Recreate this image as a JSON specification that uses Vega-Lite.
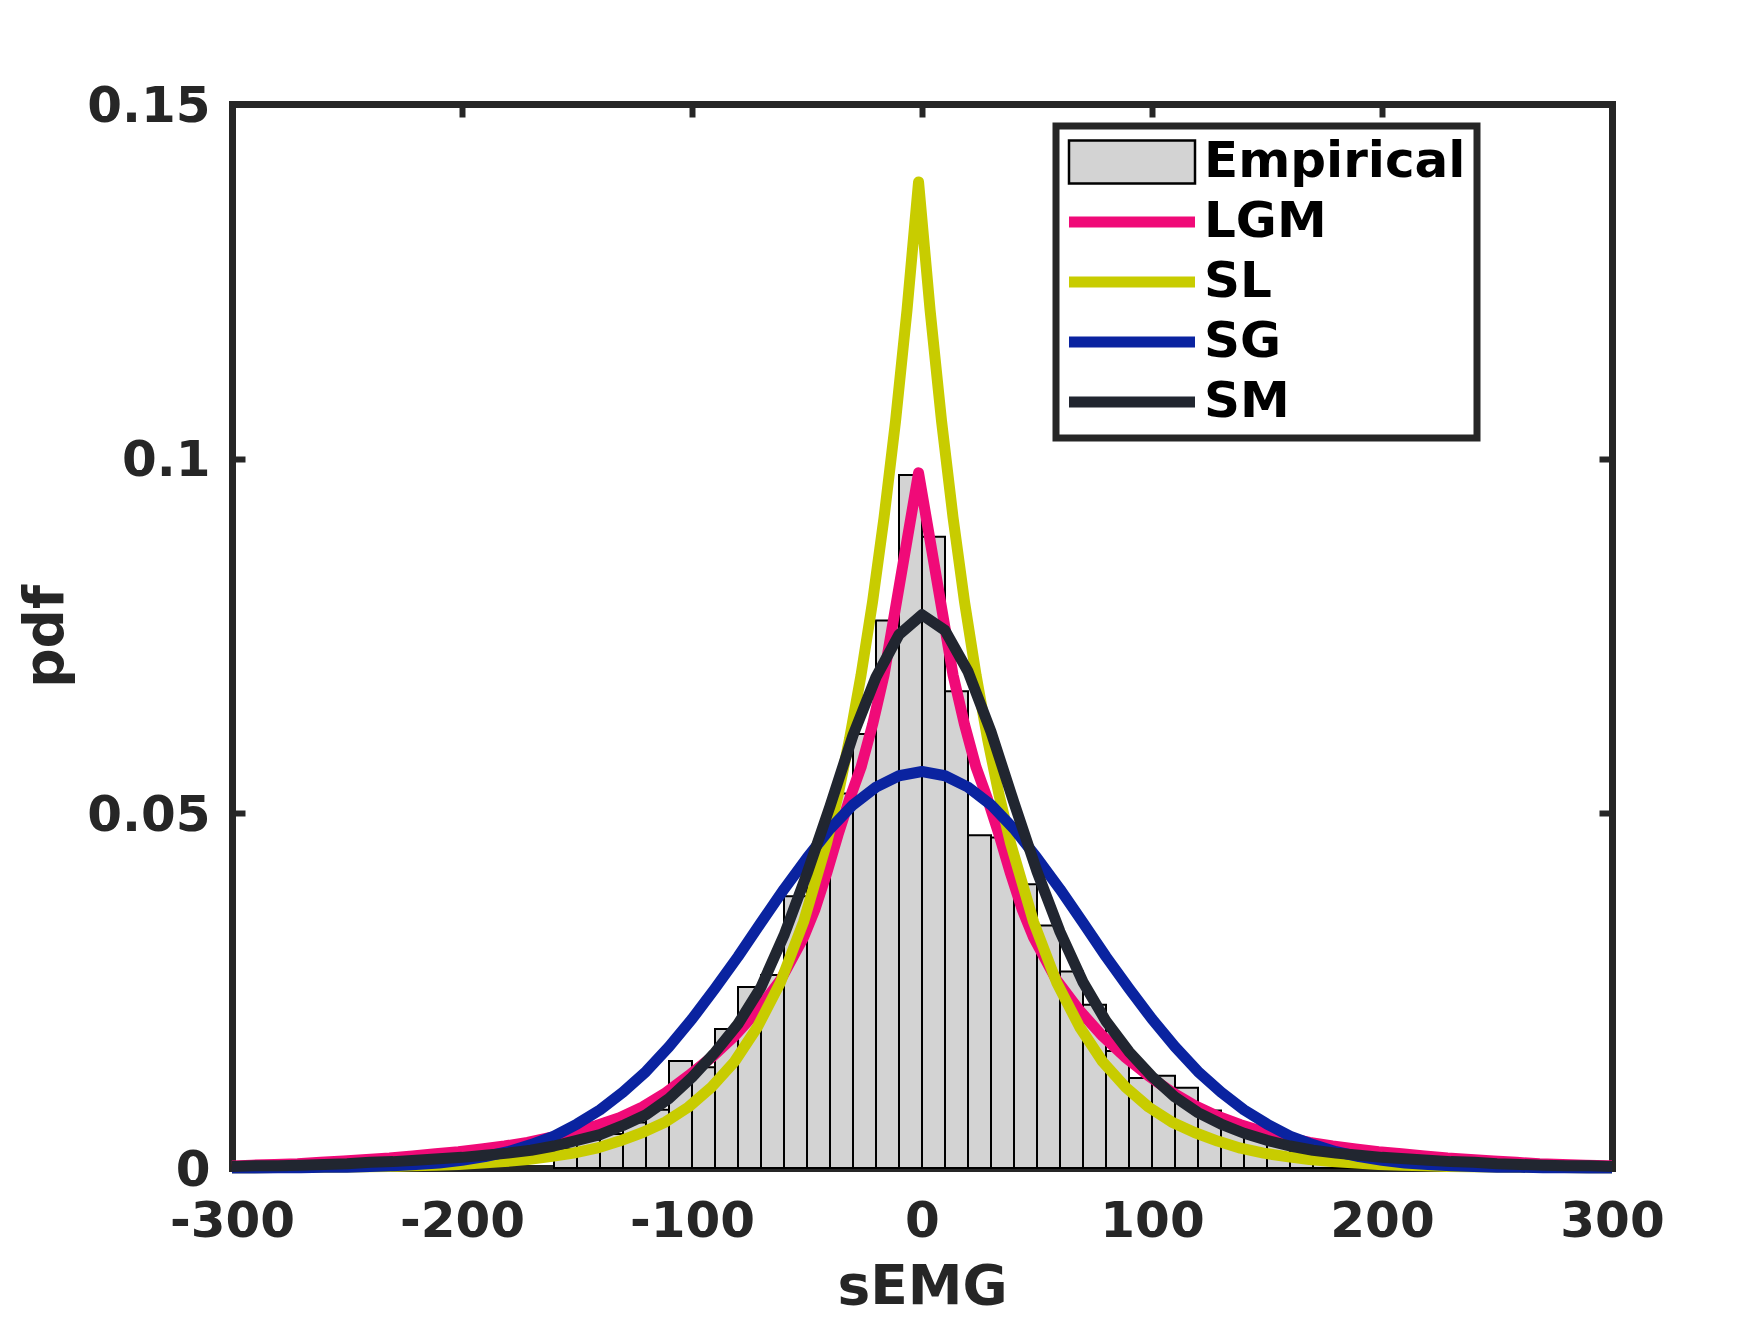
{
  "$schema": "https://vega.github.io/schema/vega-lite/v6.json",
  "width": 1380,
  "height": 1064,
  "autosize": {"type": "none"},
  "padding": {"left": 232, "top": 104, "right": 142, "bottom": 149},
  "background": "white",
  "config": {
    "view": {"stroke": null},
    "font": "DejaVu Sans",
    "axis": {
      "grid": false,
      "domainColor": "#262626",
      "domainWidth": 7,
      "domainCap": "square",
      "tickColor": "#262626",
      "tickWidth": 6,
      "tickSize": -13,
      "labelFont": "DejaVu Sans",
      "labelFontWeight": "bold",
      "labelFontSize": 50,
      "labelColor": "#262626",
      "labelFlush": false,
      "labelOverlap": false,
      "titleFont": "DejaVu Sans",
      "titleFontWeight": "bold",
      "titleFontSize": 55,
      "titleColor": "#262626",
      "zindex": 1
    },
    "legend": {
      "orient": "none",
      "legendX": 824,
      "legendY": 22,
      "title": null,
      "padding": 11,
      "rowPadding": 10,
      "clipHeight": 50,
      "labelFont": "DejaVu Sans",
      "labelFontWeight": "bold",
      "labelFontSize": 50,
      "labelColor": "#000000",
      "labelLimit": 600,
      "strokeColor": "#262626",
      "fillColor": "#ffffff"
    }
  },
  "datasets": {
    "hist": [
      {"bin_start": -160, "bin_end": -150, "pdf": 0.0027},
      {"bin_start": -150, "bin_end": -140, "pdf": 0.0040},
      {"bin_start": -140, "bin_end": -130, "pdf": 0.0048},
      {"bin_start": -130, "bin_end": -120, "pdf": 0.0064},
      {"bin_start": -120, "bin_end": -110, "pdf": 0.0082},
      {"bin_start": -110, "bin_end": -100, "pdf": 0.0151},
      {"bin_start": -100, "bin_end": -90, "pdf": 0.0142},
      {"bin_start": -90, "bin_end": -80, "pdf": 0.0196},
      {"bin_start": -80, "bin_end": -70, "pdf": 0.0255},
      {"bin_start": -70, "bin_end": -60, "pdf": 0.0272},
      {"bin_start": -60, "bin_end": -50, "pdf": 0.0383},
      {"bin_start": -50, "bin_end": -40, "pdf": 0.0432},
      {"bin_start": -40, "bin_end": -30, "pdf": 0.0528},
      {"bin_start": -30, "bin_end": -20, "pdf": 0.0612},
      {"bin_start": -20, "bin_end": -10, "pdf": 0.0772},
      {"bin_start": -10, "bin_end": 0, "pdf": 0.0977},
      {"bin_start": 0, "bin_end": 10, "pdf": 0.0890},
      {"bin_start": 10, "bin_end": 20, "pdf": 0.0672},
      {"bin_start": 20, "bin_end": 30, "pdf": 0.0469},
      {"bin_start": 30, "bin_end": 40, "pdf": 0.0466},
      {"bin_start": 40, "bin_end": 50, "pdf": 0.0400},
      {"bin_start": 50, "bin_end": 60, "pdf": 0.0342},
      {"bin_start": 60, "bin_end": 70, "pdf": 0.0277},
      {"bin_start": 70, "bin_end": 80, "pdf": 0.0230},
      {"bin_start": 80, "bin_end": 90, "pdf": 0.0165},
      {"bin_start": 90, "bin_end": 100, "pdf": 0.0127},
      {"bin_start": 100, "bin_end": 110, "pdf": 0.0130},
      {"bin_start": 110, "bin_end": 120, "pdf": 0.0113},
      {"bin_start": 120, "bin_end": 130, "pdf": 0.0081},
      {"bin_start": 130, "bin_end": 140, "pdf": 0.0060},
      {"bin_start": 140, "bin_end": 150, "pdf": 0.0047},
      {"bin_start": 150, "bin_end": 160, "pdf": 0.0035},
      {"bin_start": 160, "bin_end": 170, "pdf": 0.0038},
      {"bin_start": 170, "bin_end": 180, "pdf": 0.0030},
      {"bin_start": 180, "bin_end": 190, "pdf": 0.0023},
      {"bin_start": 190, "bin_end": 200, "pdf": 0.0021}
    ],
    "curves": [
      {"model": "LGM", "x": -300, "pdf": 0.0003},
      {"model": "LGM", "x": -291.5, "pdf": 0.0004},
      {"model": "LGM", "x": -281.5, "pdf": 0.0005},
      {"model": "LGM", "x": -271.5, "pdf": 0.0006},
      {"model": "LGM", "x": -261.5, "pdf": 0.0008},
      {"model": "LGM", "x": -251.5, "pdf": 0.0010},
      {"model": "LGM", "x": -241.5, "pdf": 0.0012},
      {"model": "LGM", "x": -231.5, "pdf": 0.0014},
      {"model": "LGM", "x": -221.5, "pdf": 0.0017},
      {"model": "LGM", "x": -211.5, "pdf": 0.0020},
      {"model": "LGM", "x": -201.5, "pdf": 0.0023},
      {"model": "LGM", "x": -191.5, "pdf": 0.0027},
      {"model": "LGM", "x": -181.5, "pdf": 0.0031},
      {"model": "LGM", "x": -171.5, "pdf": 0.0036},
      {"model": "LGM", "x": -161.5, "pdf": 0.0043},
      {"model": "LGM", "x": -151.5, "pdf": 0.0051},
      {"model": "LGM", "x": -141.5, "pdf": 0.0060},
      {"model": "LGM", "x": -131.5, "pdf": 0.0071},
      {"model": "LGM", "x": -121.5, "pdf": 0.0086},
      {"model": "LGM", "x": -111.5, "pdf": 0.0106},
      {"model": "LGM", "x": -101.5, "pdf": 0.0130},
      {"model": "LGM", "x": -91.5, "pdf": 0.0156},
      {"model": "LGM", "x": -81.5, "pdf": 0.0186},
      {"model": "LGM", "x": -71.5, "pdf": 0.0222},
      {"model": "LGM", "x": -61.5, "pdf": 0.0265},
      {"model": "LGM", "x": -51.5, "pdf": 0.0325},
      {"model": "LGM", "x": -46.5, "pdf": 0.0365},
      {"model": "LGM", "x": -41.5, "pdf": 0.0415},
      {"model": "LGM", "x": -36.5, "pdf": 0.0470},
      {"model": "LGM", "x": -31.5, "pdf": 0.0520},
      {"model": "LGM", "x": -26.5, "pdf": 0.0565},
      {"model": "LGM", "x": -21.5, "pdf": 0.0625},
      {"model": "LGM", "x": -16.5, "pdf": 0.0695},
      {"model": "LGM", "x": -11.5, "pdf": 0.0790},
      {"model": "LGM", "x": -6.5, "pdf": 0.0885},
      {"model": "LGM", "x": -1.5, "pdf": 0.0980},
      {"model": "LGM", "x": 3.5, "pdf": 0.0885},
      {"model": "LGM", "x": 8.5, "pdf": 0.0790},
      {"model": "LGM", "x": 13.5, "pdf": 0.0695},
      {"model": "LGM", "x": 18.5, "pdf": 0.0625},
      {"model": "LGM", "x": 23.5, "pdf": 0.0565},
      {"model": "LGM", "x": 28.5, "pdf": 0.0520},
      {"model": "LGM", "x": 33.5, "pdf": 0.0470},
      {"model": "LGM", "x": 38.5, "pdf": 0.0415},
      {"model": "LGM", "x": 43.5, "pdf": 0.0365},
      {"model": "LGM", "x": 48.5, "pdf": 0.0325},
      {"model": "LGM", "x": 58.5, "pdf": 0.0265},
      {"model": "LGM", "x": 68.5, "pdf": 0.0222},
      {"model": "LGM", "x": 78.5, "pdf": 0.0186},
      {"model": "LGM", "x": 88.5, "pdf": 0.0156},
      {"model": "LGM", "x": 98.5, "pdf": 0.0130},
      {"model": "LGM", "x": 108.5, "pdf": 0.0107},
      {"model": "LGM", "x": 118.5, "pdf": 0.0088},
      {"model": "LGM", "x": 128.5, "pdf": 0.0073},
      {"model": "LGM", "x": 138.5, "pdf": 0.0061},
      {"model": "LGM", "x": 148.5, "pdf": 0.0051},
      {"model": "LGM", "x": 158.5, "pdf": 0.0043},
      {"model": "LGM", "x": 168.5, "pdf": 0.0036},
      {"model": "LGM", "x": 178.5, "pdf": 0.0031},
      {"model": "LGM", "x": 188.5, "pdf": 0.0027},
      {"model": "LGM", "x": 198.5, "pdf": 0.0023},
      {"model": "LGM", "x": 208.5, "pdf": 0.0020},
      {"model": "LGM", "x": 218.5, "pdf": 0.0017},
      {"model": "LGM", "x": 228.5, "pdf": 0.0014},
      {"model": "LGM", "x": 238.5, "pdf": 0.0012},
      {"model": "LGM", "x": 248.5, "pdf": 0.0010},
      {"model": "LGM", "x": 258.5, "pdf": 0.0008},
      {"model": "LGM", "x": 268.5, "pdf": 0.0006},
      {"model": "LGM", "x": 278.5, "pdf": 0.0005},
      {"model": "LGM", "x": 288.5, "pdf": 0.0004},
      {"model": "LGM", "x": 298.5, "pdf": 0.0003},
      {"model": "LGM", "x": 300, "pdf": 0.0003},

      {"model": "SL", "x": -300, "pdf": 0.00004},
      {"model": "SL", "x": -291.5, "pdf": 0.00005},
      {"model": "SL", "x": -281.5, "pdf": 0.00006},
      {"model": "SL", "x": -271.5, "pdf": 0.00008},
      {"model": "SL", "x": -261.5, "pdf": 0.0001},
      {"model": "SL", "x": -251.5, "pdf": 0.00013},
      {"model": "SL", "x": -241.5, "pdf": 0.00018},
      {"model": "SL", "x": -231.5, "pdf": 0.0002},
      {"model": "SL", "x": -221.5, "pdf": 0.0003},
      {"model": "SL", "x": -211.5, "pdf": 0.0004},
      {"model": "SL", "x": -201.5, "pdf": 0.0005},
      {"model": "SL", "x": -191.5, "pdf": 0.0007},
      {"model": "SL", "x": -181.5, "pdf": 0.0009},
      {"model": "SL", "x": -171.5, "pdf": 0.0012},
      {"model": "SL", "x": -161.5, "pdf": 0.0016},
      {"model": "SL", "x": -151.5, "pdf": 0.0021},
      {"model": "SL", "x": -141.5, "pdf": 0.0028},
      {"model": "SL", "x": -131.5, "pdf": 0.0038},
      {"model": "SL", "x": -121.5, "pdf": 0.0050},
      {"model": "SL", "x": -111.5, "pdf": 0.0065},
      {"model": "SL", "x": -101.5, "pdf": 0.0086},
      {"model": "SL", "x": -91.5, "pdf": 0.0114},
      {"model": "SL", "x": -81.5, "pdf": 0.0150},
      {"model": "SL", "x": -71.5, "pdf": 0.0199},
      {"model": "SL", "x": -61.5, "pdf": 0.0262},
      {"model": "SL", "x": -51.5, "pdf": 0.0347},
      {"model": "SL", "x": -41.5, "pdf": 0.0458},
      {"model": "SL", "x": -36.5, "pdf": 0.0526},
      {"model": "SL", "x": -31.5, "pdf": 0.0605},
      {"model": "SL", "x": -26.5, "pdf": 0.0695},
      {"model": "SL", "x": -21.5, "pdf": 0.0798},
      {"model": "SL", "x": -16.5, "pdf": 0.0917},
      {"model": "SL", "x": -11.5, "pdf": 0.1053},
      {"model": "SL", "x": -6.5, "pdf": 0.1210},
      {"model": "SL", "x": -1.5, "pdf": 0.1390},
      {"model": "SL", "x": 3.5, "pdf": 0.1210},
      {"model": "SL", "x": 8.5, "pdf": 0.1053},
      {"model": "SL", "x": 13.5, "pdf": 0.0917},
      {"model": "SL", "x": 18.5, "pdf": 0.0798},
      {"model": "SL", "x": 23.5, "pdf": 0.0695},
      {"model": "SL", "x": 28.5, "pdf": 0.0605},
      {"model": "SL", "x": 33.5, "pdf": 0.0526},
      {"model": "SL", "x": 38.5, "pdf": 0.0458},
      {"model": "SL", "x": 48.5, "pdf": 0.0347},
      {"model": "SL", "x": 58.5, "pdf": 0.0262},
      {"model": "SL", "x": 68.5, "pdf": 0.0199},
      {"model": "SL", "x": 78.5, "pdf": 0.0150},
      {"model": "SL", "x": 88.5, "pdf": 0.0114},
      {"model": "SL", "x": 98.5, "pdf": 0.0086},
      {"model": "SL", "x": 108.5, "pdf": 0.0065},
      {"model": "SL", "x": 118.5, "pdf": 0.0050},
      {"model": "SL", "x": 128.5, "pdf": 0.0038},
      {"model": "SL", "x": 138.5, "pdf": 0.0028},
      {"model": "SL", "x": 148.5, "pdf": 0.0021},
      {"model": "SL", "x": 158.5, "pdf": 0.0016},
      {"model": "SL", "x": 168.5, "pdf": 0.0012},
      {"model": "SL", "x": 178.5, "pdf": 0.0009},
      {"model": "SL", "x": 188.5, "pdf": 0.0007},
      {"model": "SL", "x": 198.5, "pdf": 0.0005},
      {"model": "SL", "x": 208.5, "pdf": 0.0004},
      {"model": "SL", "x": 218.5, "pdf": 0.0003},
      {"model": "SL", "x": 228.5, "pdf": 0.0002},
      {"model": "SL", "x": 238.5, "pdf": 0.00018},
      {"model": "SL", "x": 248.5, "pdf": 0.00013},
      {"model": "SL", "x": 258.5, "pdf": 0.0001},
      {"model": "SL", "x": 268.5, "pdf": 0.00008},
      {"model": "SL", "x": 278.5, "pdf": 0.00006},
      {"model": "SL", "x": 288.5, "pdf": 0.00005},
      {"model": "SL", "x": 298.5, "pdf": 0.00004},
      {"model": "SL", "x": 300, "pdf": 0.00004},

      {"model": "SG", "x": -300, "pdf": 0.0},
      {"model": "SG", "x": -290, "pdf": 0.00001},
      {"model": "SG", "x": -280, "pdf": 0.00002},
      {"model": "SG", "x": -270, "pdf": 0.00004},
      {"model": "SG", "x": -260, "pdf": 0.0001},
      {"model": "SG", "x": -250, "pdf": 0.0001},
      {"model": "SG", "x": -240, "pdf": 0.0002},
      {"model": "SG", "x": -230, "pdf": 0.0003},
      {"model": "SG", "x": -220, "pdf": 0.0005},
      {"model": "SG", "x": -210, "pdf": 0.0007},
      {"model": "SG", "x": -200, "pdf": 0.0011},
      {"model": "SG", "x": -190, "pdf": 0.0016},
      {"model": "SG", "x": -180, "pdf": 0.0023},
      {"model": "SG", "x": -170, "pdf": 0.0033},
      {"model": "SG", "x": -160, "pdf": 0.0045},
      {"model": "SG", "x": -150, "pdf": 0.0062},
      {"model": "SG", "x": -140, "pdf": 0.0082},
      {"model": "SG", "x": -130, "pdf": 0.0107},
      {"model": "SG", "x": -120, "pdf": 0.0136},
      {"model": "SG", "x": -110, "pdf": 0.0171},
      {"model": "SG", "x": -100, "pdf": 0.0210},
      {"model": "SG", "x": -90, "pdf": 0.0253},
      {"model": "SG", "x": -80, "pdf": 0.0298},
      {"model": "SG", "x": -70, "pdf": 0.0346},
      {"model": "SG", "x": -60, "pdf": 0.0393},
      {"model": "SG", "x": -50, "pdf": 0.0437},
      {"model": "SG", "x": -40, "pdf": 0.0478},
      {"model": "SG", "x": -30, "pdf": 0.0512},
      {"model": "SG", "x": -20, "pdf": 0.0537},
      {"model": "SG", "x": -10, "pdf": 0.0553},
      {"model": "SG", "x": 0, "pdf": 0.0559},
      {"model": "SG", "x": 10, "pdf": 0.0553},
      {"model": "SG", "x": 20, "pdf": 0.0537},
      {"model": "SG", "x": 30, "pdf": 0.0512},
      {"model": "SG", "x": 40, "pdf": 0.0478},
      {"model": "SG", "x": 50, "pdf": 0.0437},
      {"model": "SG", "x": 60, "pdf": 0.0393},
      {"model": "SG", "x": 70, "pdf": 0.0346},
      {"model": "SG", "x": 80, "pdf": 0.0298},
      {"model": "SG", "x": 90, "pdf": 0.0253},
      {"model": "SG", "x": 100, "pdf": 0.0210},
      {"model": "SG", "x": 110, "pdf": 0.0171},
      {"model": "SG", "x": 120, "pdf": 0.0136},
      {"model": "SG", "x": 130, "pdf": 0.0107},
      {"model": "SG", "x": 140, "pdf": 0.0082},
      {"model": "SG", "x": 150, "pdf": 0.0062},
      {"model": "SG", "x": 160, "pdf": 0.0045},
      {"model": "SG", "x": 170, "pdf": 0.0033},
      {"model": "SG", "x": 180, "pdf": 0.0023},
      {"model": "SG", "x": 190, "pdf": 0.0016},
      {"model": "SG", "x": 200, "pdf": 0.0011},
      {"model": "SG", "x": 210, "pdf": 0.0007},
      {"model": "SG", "x": 220, "pdf": 0.0005},
      {"model": "SG", "x": 230, "pdf": 0.0003},
      {"model": "SG", "x": 240, "pdf": 0.0002},
      {"model": "SG", "x": 250, "pdf": 0.0001},
      {"model": "SG", "x": 260, "pdf": 0.0001},
      {"model": "SG", "x": 270, "pdf": 0.00004},
      {"model": "SG", "x": 280, "pdf": 0.00002},
      {"model": "SG", "x": 290, "pdf": 0.00001},
      {"model": "SG", "x": 300, "pdf": 0.0},

      {"model": "SM", "x": -300, "pdf": 0.0002},
      {"model": "SM", "x": -290, "pdf": 0.0003},
      {"model": "SM", "x": -280, "pdf": 0.0003},
      {"model": "SM", "x": -270, "pdf": 0.0004},
      {"model": "SM", "x": -260, "pdf": 0.0005},
      {"model": "SM", "x": -250, "pdf": 0.0006},
      {"model": "SM", "x": -240, "pdf": 0.0008},
      {"model": "SM", "x": -230, "pdf": 0.0009},
      {"model": "SM", "x": -220, "pdf": 0.0011},
      {"model": "SM", "x": -210, "pdf": 0.0013},
      {"model": "SM", "x": -200, "pdf": 0.0015},
      {"model": "SM", "x": -190, "pdf": 0.0018},
      {"model": "SM", "x": -180, "pdf": 0.0021},
      {"model": "SM", "x": -170, "pdf": 0.0025},
      {"model": "SM", "x": -160, "pdf": 0.0031},
      {"model": "SM", "x": -150, "pdf": 0.0039},
      {"model": "SM", "x": -140, "pdf": 0.0047},
      {"model": "SM", "x": -130, "pdf": 0.0060},
      {"model": "SM", "x": -120, "pdf": 0.0075},
      {"model": "SM", "x": -110, "pdf": 0.0098},
      {"model": "SM", "x": -100, "pdf": 0.0128},
      {"model": "SM", "x": -90, "pdf": 0.0163},
      {"model": "SM", "x": -80, "pdf": 0.0203},
      {"model": "SM", "x": -70, "pdf": 0.0255},
      {"model": "SM", "x": -60, "pdf": 0.0328},
      {"model": "SM", "x": -50, "pdf": 0.0415},
      {"model": "SM", "x": -40, "pdf": 0.0510},
      {"model": "SM", "x": -30, "pdf": 0.0610},
      {"model": "SM", "x": -20, "pdf": 0.0692},
      {"model": "SM", "x": -10, "pdf": 0.0752},
      {"model": "SM", "x": 0, "pdf": 0.0780},
      {"model": "SM", "x": 10, "pdf": 0.0758},
      {"model": "SM", "x": 20, "pdf": 0.0700},
      {"model": "SM", "x": 30, "pdf": 0.0615},
      {"model": "SM", "x": 40, "pdf": 0.0515},
      {"model": "SM", "x": 50, "pdf": 0.0418},
      {"model": "SM", "x": 60, "pdf": 0.0333},
      {"model": "SM", "x": 70, "pdf": 0.0262},
      {"model": "SM", "x": 80, "pdf": 0.0207},
      {"model": "SM", "x": 90, "pdf": 0.0164},
      {"model": "SM", "x": 100, "pdf": 0.0129},
      {"model": "SM", "x": 110, "pdf": 0.0100},
      {"model": "SM", "x": 120, "pdf": 0.0078},
      {"model": "SM", "x": 130, "pdf": 0.0062},
      {"model": "SM", "x": 140, "pdf": 0.0049},
      {"model": "SM", "x": 150, "pdf": 0.0039},
      {"model": "SM", "x": 160, "pdf": 0.0031},
      {"model": "SM", "x": 170, "pdf": 0.0025},
      {"model": "SM", "x": 180, "pdf": 0.0021},
      {"model": "SM", "x": 190, "pdf": 0.0018},
      {"model": "SM", "x": 200, "pdf": 0.0015},
      {"model": "SM", "x": 210, "pdf": 0.0013},
      {"model": "SM", "x": 220, "pdf": 0.0011},
      {"model": "SM", "x": 230, "pdf": 0.0009},
      {"model": "SM", "x": 240, "pdf": 0.0008},
      {"model": "SM", "x": 250, "pdf": 0.0006},
      {"model": "SM", "x": 260, "pdf": 0.0005},
      {"model": "SM", "x": 270, "pdf": 0.0004},
      {"model": "SM", "x": 280, "pdf": 0.0003},
      {"model": "SM", "x": 290, "pdf": 0.0003},
      {"model": "SM", "x": 300, "pdf": 0.0002}
    ]
  },
  "layer": [
    {
      "data": {"name": "hist"},
      "mark": {"type": "rect", "fill": "#d3d3d3", "strokeWidth": 2, "fillOpacity": 1},
      "encoding": {
        "x": {
          "field": "bin_start",
          "type": "quantitative",
          "scale": {"domain": [-300, 300], "nice": false, "zero": false},
          "axis": {
            "orient": "bottom",
            "values": [-300, -200, -100, 0, 100, 200, 300],
            "labelExpr": "datum.value + ''",
            "labelPadding": 41,
            "title": "sEMG",
            "titleBaseline": "alphabetic",
            "titleY": 135
          }
        },
        "x2": {"field": "bin_end"},
        "y": {
          "field": "pdf",
          "type": "quantitative",
          "scale": {"domain": [0, 0.15], "nice": false},
          "axis": {
            "orient": "left",
            "values": [0, 0.05, 0.1, 0.15],
            "labelExpr": "datum.value + ''",
            "labelPadding": 35,
            "labelOffset": 2,
            "title": "pdf",
            "titleAngle": -90,
            "titleBaseline": "alphabetic",
            "titleX": -170
          }
        },
        "y2": {"datum": 0},
        "stroke": {
          "datum": "Empirical",
          "type": "nominal",
          "title": null,
          "scale": {
            "domain": ["Empirical", "LGM", "SL", "SG", "SM"],
            "range": ["#000000", "#f00a78", "#c8cc00", "#0a23a0", "#212630"]
          },
          "legend": {
            "title": null,
            "encode": {
              "legend": {"update": {"strokeWidth": {"value": 7}}},
              "symbols": {
                "update": {
                  "x": {"value": 65},
                  "shape": {"signal": "datum.value === 'Empirical' ? 'M-1,-0.34H1V0.34H-1Z' : 'M-1,0H1'"},
                  "size": {"value": 15876},
                  "fill": {"signal": "datum.value === 'Empirical' ? '#d3d3d3' : 'transparent'"},
                  "strokeWidth": {"signal": "datum.value === 'Empirical' ? 2.5 : 11"},
                  "opacity": {"value": 1},
                  "fillOpacity": {"value": 1},
                  "strokeOpacity": {"value": 1}
                }
              },
              "labels": {"update": {"x": {"value": 137}}}
            }
          }
        }
      }
    },
    {
      "data": {"name": "curves"},
      "mark": {"type": "line", "strokeWidth": 11, "strokeJoin": "round"},
      "encoding": {
        "x": {
          "field": "x",
          "type": "quantitative",
          "scale": {"domain": [-300, 300], "nice": false, "zero": false},
          "axis": {
            "orient": "top",
            "values": [-300, -200, -100, 0, 100, 200, 300],
            "labels": false,
            "title": null
          }
        },
        "y": {
          "field": "pdf",
          "type": "quantitative",
          "scale": {"domain": [0, 0.15], "nice": false},
          "axis": {
            "orient": "right",
            "values": [0, 0.05, 0.1, 0.15],
            "labels": false,
            "title": null
          }
        },
        "stroke": {
          "field": "model",
          "type": "nominal",
          "title": null,
          "legend": {
            "title": null,
            "encode": {
              "legend": {"update": {"strokeWidth": {"value": 7}}},
              "symbols": {
                "update": {
                  "x": {"value": 65},
                  "shape": {"signal": "datum.value === 'Empirical' ? 'M-1,-0.34H1V0.34H-1Z' : 'M-1,0H1'"},
                  "size": {"value": 15876},
                  "fill": {"signal": "datum.value === 'Empirical' ? '#d3d3d3' : 'transparent'"},
                  "strokeWidth": {"signal": "datum.value === 'Empirical' ? 2.5 : 11"},
                  "opacity": {"value": 1},
                  "fillOpacity": {"value": 1},
                  "strokeOpacity": {"value": 1}
                }
              },
              "labels": {"update": {"x": {"value": 137}}}
            }
          }
        }
      }
    }
  ],
  "resolve": {"axis": {"x": "independent", "y": "independent"}}
}
